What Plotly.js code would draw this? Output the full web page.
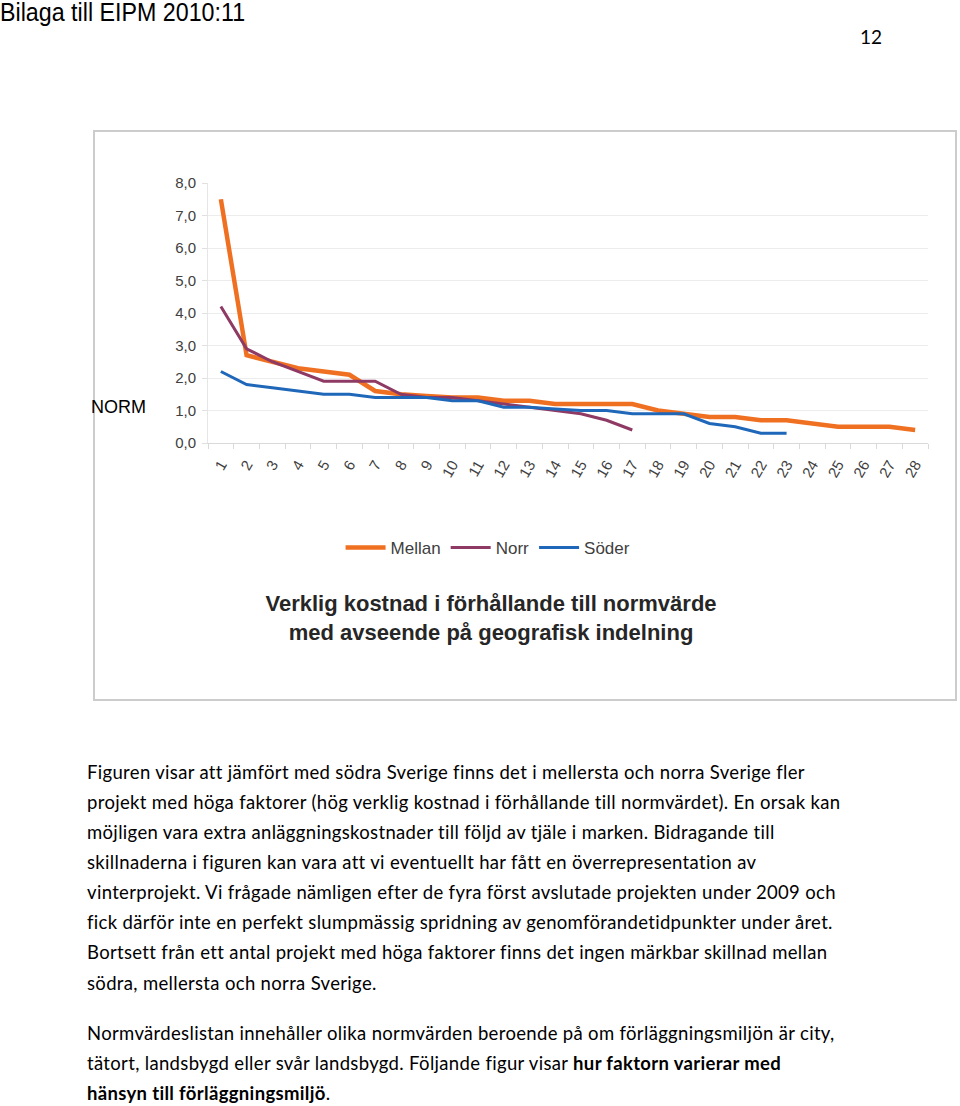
<!DOCTYPE html>
<html>
<head>
<meta charset="utf-8">
<script src="https://cdn.plot.ly/plotly-3.0.1.min.js"></script>
<style>
  html, body { margin:0; padding:0; background:#fff; }
  body { width:960px; height:1106px; position:relative; overflow:hidden; }
  .abs { position:absolute; white-space:nowrap; color:#000; }
  .para { font-family:"Lato","Open Sans",sans-serif; font-size:18.5px; letter-spacing:0.33px; line-height:30px; height:30px; }
  #chart { position:absolute; left:93px; top:130px; width:864px; height:571px; }
  #frame { position:absolute; left:93px; top:130px; width:864px; height:571px; box-sizing:border-box; border:2px solid #cccccc; pointer-events:none; }
</style>
</head>
<body>
<div class="abs" style="left:0; top:-2px; font-family:'Liberation Sans',Arial,sans-serif; font-size:25px; line-height:28px; transform:scaleX(0.93); transform-origin:0 0;">Bilaga till EIPM 2010:11</div>
<div class="abs" style="left:860px; top:25px; font-family:'Lato',sans-serif; font-size:19px; line-height:24px;">12</div>

<div id="chart"></div>
<div id="frame"></div>
<div class="abs" style="left:91px; top:396px; font-family:'Liberation Sans',Arial,sans-serif; font-size:18px; line-height:22px;">NORM</div>

<div class="abs para" style="left:87px; top:757px;">Figuren visar att jämfört med södra Sverige finns det i mellersta och norra Sverige fler</div>
<div class="abs para" style="left:87px; top:787px;">projekt med höga faktorer (hög verklig kostnad i förhållande till normvärdet). En orsak kan</div>
<div class="abs para" style="left:87px; top:817px;">möjligen vara extra anläggningskostnader till följd av tjäle i marken. Bidragande till</div>
<div class="abs para" style="left:87px; top:847px;">skillnaderna i figuren kan vara att vi eventuellt har fått en överrepresentation av</div>
<div class="abs para" style="left:87px; top:877px;">vinterprojekt. Vi frågade nämligen efter de fyra först avslutade projekten under 2009 och</div>
<div class="abs para" style="left:87px; top:907px;">fick därför inte en perfekt slumpmässig spridning av genomförandetidpunkter under året.</div>
<div class="abs para" style="left:87px; top:937px;">Bortsett från ett antal projekt med höga faktorer finns det ingen märkbar skillnad mellan</div>
<div class="abs para" style="left:87px; top:968px;">södra, mellersta och norra Sverige.</div>
<div class="abs para" style="left:87px; top:1018px;">Normvärdeslistan innehåller olika normvärden beroende på om förläggningsmiljön är city,</div>
<div class="abs para" style="left:87px; top:1048px;">tätort, landsbygd eller svår landsbygd. Följande figur visar <b>hur faktorn varierar med</b></div>
<div class="abs para" style="left:87px; top:1078px;"><b>hänsyn till förläggningsmiljö</b>.</div>

<script>
const categories = ["1","2","3","4","5","6","7","8","9","10","11","12","13","14","15","16","17","18","19","20","21","22","23","24","25","26","27","28"];
const mellan = [7.5,2.7,2.5,2.3,2.2,2.1,1.6,1.5,1.45,1.4,1.4,1.3,1.3,1.2,1.2,1.2,1.2,1.0,0.9,0.8,0.8,0.7,0.7,0.6,0.5,0.5,0.5,0.4];
const norr = [4.2,2.9,2.5,2.2,1.9,1.9,1.9,1.5,1.4,1.4,1.3,1.2,1.1,1.0,0.9,0.7,0.4];
const soder = [2.2,1.8,1.7,1.6,1.5,1.5,1.4,1.4,1.4,1.3,1.3,1.1,1.1,1.05,1.0,1.0,0.9,0.9,0.9,0.6,0.5,0.3,0.3];
const seriesNames = ["Mellan","Norr","Söder"];
const yTicks = [0,1,2,3,4,5,6,7,8];
const titleText = "Verklig kostnad i förhållande till normvärde<br>med avseende på geografisk indelning";

const traces = [
  {x: categories.slice(0, mellan.length), y: mellan, name: seriesNames[0], type:"scatter", mode:"lines",
   line:{color:"#F07022", width:4.5}},
  {x: categories.slice(0, norr.length), y: norr, name: seriesNames[1], type:"scatter", mode:"lines",
   line:{color:"#8E3A64", width:3}},
  {x: categories.slice(0, soder.length), y: soder, name: seriesNames[2], type:"scatter", mode:"lines",
   line:{color:"#1F67B9", width:3}}
];

const layout = {
  width:864, height:571,
  margin:{l:115, r:29, t:53, b:258, pad:0},
  paper_bgcolor:"rgba(0,0,0,0)", plot_bgcolor:"#fff",
  font:{family:"Liberation Sans, Arial, sans-serif", color:"#404040", size:15},
  showlegend:true,
  legend:{orientation:"h", x:0.389, xanchor:"center", y:-0.404, yanchor:"middle",
          font:{size:17, color:"#404040"}, traceorder:"normal", itemwidth:40, bgcolor:"rgba(0,0,0,0)"},
  title:{text:titleText, x:398/864, xanchor:"center", xref:"container", y:1-481/571, yanchor:"middle", yref:"container",
         font:{family:"Liberation Sans, Arial, sans-serif", size:22, color:"#262626", weight:"bold"}},
  xaxis:{type:"category", categoryorder:"array", categoryarray:categories, range:[-0.5, 27.5],
         tickson:"boundaries", ticks:"outside", ticklen:5, tickcolor:"#d9d9d9", tickwidth:1,
         showline:true, linecolor:"#d9d9d9", linewidth:1, showgrid:false, zeroline:false,
         tickangle:-60, tickfont:{size:15, color:"#404040"}, ticklabelstandoff:6, fixedrange:true},
  yaxis:{range:[0,8], tickvals:yTicks, ticktext:yTicks.map(v => v.toFixed(1).replace(".", ",")),
         ticks:"outside", ticklen:5, tickcolor:"#e0e0e0", showline:true, linecolor:"#e6e6e6",
         showgrid:true, gridcolor:"#ececec", gridwidth:1, zeroline:false,
         tickfont:{size:15, color:"#404040"}, ticklabelstandoff:3, fixedrange:true}
};

Plotly.newPlot("chart", traces, layout, {displayModeBar:false, staticPlot:true});
</script>
</body>
</html>
